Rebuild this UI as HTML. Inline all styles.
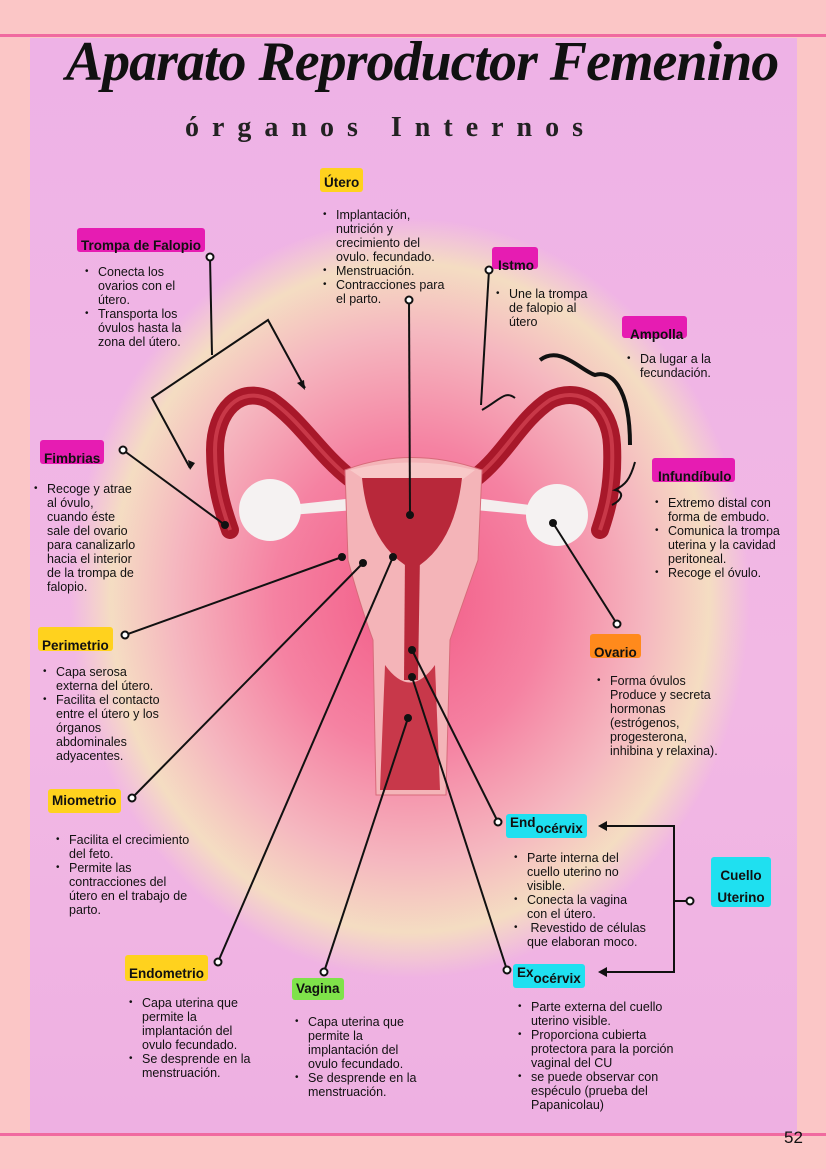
<!DOCTYPE html>
<html><head><meta charset="utf-8"><style>
*{margin:0;padding:0;box-sizing:border-box}
body{width:826px;height:1169px;background:#fbc6c6;position:relative;overflow:hidden;font-family:"Liberation Sans",sans-serif;color:#111}
.panel{position:absolute;left:30px;top:38px;width:767px;height:1097px;background:radial-gradient(ellipse 340px 380px at 380px 560px,#f25a86 0%,#f582a2 40%,#f5b8c0 70%,rgba(245,225,190,0.9) 88%,rgba(240,190,225,0) 100%),linear-gradient(#eeb2e6,#f2b8e4 60%,#eeb0e2);}
.lb{position:absolute;font-weight:bold;font-size:13.5px;padding:0 4px;border-radius:3px;line-height:22px}
.y{background:#ffd21e}.m{background:#e61cb2}.o{background:#ff8a1c}.c{background:#1fe0f0}.g{background:#7fe24a}
.t{position:absolute;font-size:12.5px;line-height:14px}
.t li{list-style:none;position:relative}
.t li:before{content:"•";position:absolute;left:-13px;font-size:10px}
</style></head><body>
<div style="position:absolute;left:0;top:34px;width:826px;height:3px;background:#f06aa0"></div>
<div class="panel"></div>
<div style="position:absolute;left:0;top:1133px;width:826px;height:3px;background:#f06aa0"></div>
<div style="position:absolute;left:784px;top:1128px;font-size:17px">52</div>
<div style="position:absolute;left:62px;top:30px;width:720px;text-align:center;font-family:'Liberation Serif',serif;font-style:italic;font-weight:bold;font-size:56px;letter-spacing:-1px">Aparato Reproductor Femenino</div>
<div style="position:absolute;left:185px;top:112px;font-family:'Liberation Serif',serif;font-size:28px;font-weight:bold;color:#222;letter-spacing:13px">órganos Internos</div>

<svg width="826" height="1169" style="position:absolute;left:0;top:0">
<g stroke="#a8182a" fill="none" stroke-linecap="round">
<path d="M350 478 C320 455 300 420 270 400 C240 385 215 410 215 450 C215 490 225 515 230 530" stroke-width="18"/>
<path d="M475 478 C505 455 520 420 550 400 C580 385 610 405 612 445 C614 490 605 515 600 530" stroke-width="18"/>
</g>
<g stroke="#c83848" fill="none" stroke-width="4"><path d="M350 478 C320 455 300 420 270 400 C240 385 215 410 215 450 C215 490 225 515 230 530"/><path d="M475 478 C505 455 520 420 550 400 C580 385 610 405 612 445 C614 490 605 515 600 530"/></g>
<path d="M290 505 L355 498 L355 510 L290 515Z M530 505 L475 498 L475 510 L530 515Z" fill="#f4eeee"/>
<circle cx="270" cy="510" r="31" fill="#f5f2f2"/><circle cx="557" cy="515" r="31" fill="#f5f2f2"/>
<path d="M345 470 Q410 445 482 470 L478 560 Q462 605 450 640 L446 795 L376 795 L373 640 Q360 605 348 560Z" fill="#f4b4b8" stroke="#d86a7a"/>
<path d="M350 470 Q412 455 475 470 L462 480 L365 480Z" fill="#f8c8c8"/>
<path d="M362 478 L462 478 Q455 540 420 565 L405 565 Q368 540 362 478Z" fill="#b8283a"/>
<path d="M405 555 L420 555 L418 680 L404 680Z" fill="#b8283a"/>
<path d="M385 665 Q410 700 435 665 L440 790 L380 790Z" fill="#c8384a"/>
<g stroke="#111" stroke-width="2" fill="none">
<line x1="409" y1="300" x2="410" y2="515"/>
<line x1="210" y1="257" x2="212" y2="355"/>
<polyline points="190,468 152,398 268,320 305,388"/>
<line x1="489" y1="270" x2="481" y2="405"/>
<line x1="123" y1="450" x2="225" y2="525"/>
<line x1="125" y1="635" x2="342" y2="557"/>
<line x1="132" y1="798" x2="363" y2="563"/>
<line x1="218" y1="962" x2="393" y2="557"/>
<line x1="324" y1="972" x2="408" y2="718"/>
<line x1="498" y1="822" x2="412" y2="650"/>
<line x1="507" y1="970" x2="412" y2="677"/>
<line x1="617" y1="624" x2="553" y2="523"/>
<polyline points="600,826 674,826 674,972 600,972"/>
<line x1="674" y1="901" x2="686" y2="901"/>
<path d="M540 360 C560 345 580 370 595 375 C610 370 630 385 630 445" stroke-width="4"/>
<path d="M482 410 C500 400 505 390 515 398" />
<path d="M635 462 C630 480 625 485 615 490 C625 492 622 500 612 505"/>
</g>
<g fill="#111"><path d="M305 390 l-8 -7 l7 -3z M190 470 l-2 -10 l7 3z M598 826 l9 -5 v10z M598 972 l9 -5 v10z"/>
<circle cx="410" cy="515" r="4"/><circle cx="225" cy="525" r="4"/><circle cx="342" cy="557" r="4"/><circle cx="363" cy="563" r="4"/><circle cx="393" cy="557" r="4"/><circle cx="408" cy="718" r="4"/><circle cx="412" cy="650" r="4"/><circle cx="412" cy="677" r="4"/><circle cx="553" cy="523" r="4"/></g>
<g fill="#fff" stroke="#111" stroke-width="2"><circle cx="409" cy="300" r="3.5"/><circle cx="210" cy="257" r="3.5"/><circle cx="489" cy="270" r="3.5"/><circle cx="123" cy="450" r="3.5"/><circle cx="125" cy="635" r="3.5"/><circle cx="132" cy="798" r="3.5"/><circle cx="218" cy="962" r="3.5"/><circle cx="324" cy="972" r="3.5"/><circle cx="498" cy="822" r="3.5"/><circle cx="507" cy="970" r="3.5"/><circle cx="617" cy="624" r="3.5"/><circle cx="690" cy="901" r="3.5"/></g>
</svg>

<div class="lb y" style="left:320px;top:168px;height:24px;line-height:30px">Útero</div>
<ul class="t" style="left:336px;top:208px"><li>Implantación,<br>nutrición y<br>crecimiento del<br>ovulo. fecundado.</li><li>Menstruación.</li><li>Contracciones para<br>el parto.</li></ul>
<div class="lb m" style="left:77px;top:228px;height:24px;line-height:36px;overflow:visible">Trompa de Falopio</div>
<ul class="t" style="left:98px;top:265px"><li>Conecta los<br>ovarios con el<br>útero.</li><li>Transporta los<br>óvulos hasta la<br>zona del útero.</li></ul>
<div class="lb m" style="left:492px;top:247px;height:22px;line-height:38px;overflow:visible;padding-left:6px">Istmo</div>
<ul class="t" style="left:509px;top:287px"><li>Une la trompa<br>de falopio al<br>útero</li></ul>
<div class="lb m" style="left:622px;top:316px;height:22px;line-height:38px;padding-left:8px">Ampolla</div>
<ul class="t" style="left:640px;top:352px"><li>Da lugar a la<br>fecundación.</li></ul>
<div class="lb m" style="left:40px;top:440px;height:24px;line-height:38px">Fimbrias</div>
<ul class="t" style="left:47px;top:482px"><li>Recoge y atrae<br>al óvulo,<br>cuando éste<br>sale del ovario<br>para canalizarlo<br>hacia el interior<br>de la trompa de<br>falopio.</li></ul>
<div class="lb m" style="left:652px;top:458px;height:24px;line-height:38px;padding-left:6px">Infundíbulo</div>
<ul class="t" style="left:668px;top:496px"><li>Extremo distal con<br>forma de embudo.</li><li>Comunica la trompa<br>uterina y la cavidad<br>peritoneal.</li><li>Recoge el óvulo.</li></ul>
<div class="lb y" style="left:38px;top:627px;height:24px;line-height:38px">Perimetrio</div>
<ul class="t" style="left:56px;top:665px"><li>Capa serosa<br>externa del útero.</li><li>Facilita el contacto<br>entre el útero y los<br>órganos<br>abdominales<br>adyacentes.</li></ul>
<div class="lb o" style="left:590px;top:634px;height:24px;line-height:38px">Ovario</div>
<ul class="t" style="left:610px;top:674px"><li>Forma óvulos<br>Produce y secreta<br>hormonas<br>(estrógenos,<br>progesterona,<br>inhibina y relaxina).</li></ul>
<div class="lb y" style="left:48px;top:789px;height:24px;line-height:24px">Miometrio</div>
<ul class="t" style="left:69px;top:833px"><li>Facilita el crecimiento<br>del feto.</li><li>Permite las<br>contracciones del<br>útero en el trabajo de<br>parto.</li></ul>
<div class="lb c" style="left:506px;top:814px;height:24px;line-height:18px">End<span style="position:relative;top:6px">océrvix</span></div>
<ul class="t" style="left:527px;top:851px"><li>Parte interna del<br>cuello uterino no<br>visible.</li><li>Conecta la vagina<br>con el útero.</li><li>&nbsp;Revestido de células<br>que elaboran moco.</li></ul>
<div class="lb c" style="left:711px;top:857px;width:60px;height:50px;line-height:22px;text-align:center;padding-top:8px">Cuello Uterino</div>
<div class="lb y" style="left:125px;top:955px;height:26px;line-height:38px">Endometrio</div>
<ul class="t" style="left:142px;top:996px"><li>Capa uterina que<br>permite la<br>implantación del<br>ovulo fecundado.</li><li>Se desprende en la<br>menstruación.</li></ul>
<div class="lb g" style="left:292px;top:978px;height:22px">Vagina</div>
<ul class="t" style="left:308px;top:1015px"><li>Capa uterina que<br>permite la<br>implantación del<br>ovulo fecundado.</li><li>Se desprende en la<br>menstruación.</li></ul>
<div class="lb c" style="left:513px;top:964px;height:24px;line-height:18px">Ex<span style="position:relative;top:6px">océrvix</span></div>
<ul class="t" style="left:531px;top:1000px"><li>Parte externa del cuello<br>uterino visible.</li><li>Proporciona cubierta<br>protectora para la porción<br>vaginal del CU</li><li>se puede observar con<br>espéculo (prueba del<br>Papanicolau)</li></ul>
</body></html>
